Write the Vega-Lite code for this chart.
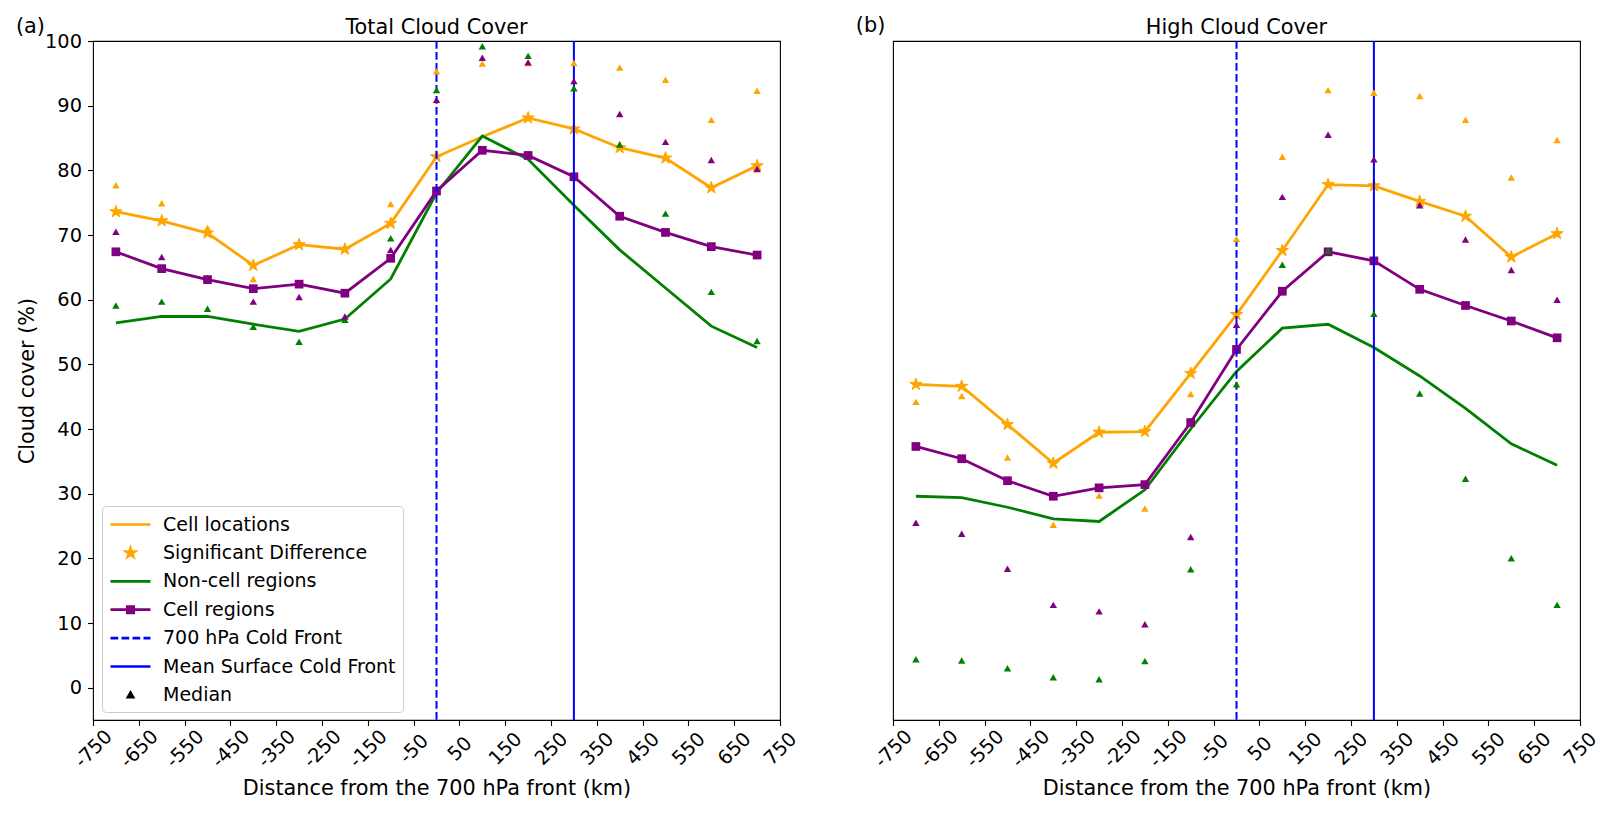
{
  "$schema": "https://vega.github.io/schema/vega-lite/v6.json",
  "padding": {"left": 15, "top": 15, "right": 5, "bottom": 5},
  "background": "white",
  "datasets": {
    "a": [
      {"x": -700, "cl": 73.6, "ncl": 56.4, "cr": 67.4, "clm": 77.7, "nclm": 59.1, "crm": 70.5, "sig": true},
      {"x": -600, "cl": 72.2, "ncl": 57.4, "cr": 64.8, "clm": 74.9, "nclm": 59.7, "crm": 66.6, "sig": true},
      {"x": -500, "cl": 70.3, "ncl": 57.4, "cr": 63.1, "clm": 71.1, "nclm": 58.6, "crm": 63.3, "sig": true},
      {"x": -400, "cl": 65.3, "ncl": 56.2, "cr": 61.7, "clm": 63.2, "nclm": 55.8, "crm": 59.7, "sig": true},
      {"x": -300, "cl": 68.5, "ncl": 55.1, "cr": 62.4, "clm": 68.8, "nclm": 53.5, "crm": 60.4, "sig": true},
      {"x": -200, "cl": 67.8, "ncl": 57.0, "cr": 61.0, "clm": 67.9, "nclm": 56.9, "crm": 57.4, "sig": true},
      {"x": -100, "cl": 71.8, "ncl": 63.2, "cr": 66.4, "clm": 74.8, "nclm": 69.5, "crm": 67.7, "sig": true},
      {"x": 0, "cl": 82.1, "ncl": 76.5, "cr": 76.8, "clm": 95.3, "nclm": 92.4, "crm": 90.9, "sig": true},
      {"x": 100, "cl": 85.2, "ncl": 85.3, "cr": 83.1, "clm": 96.5, "nclm": 99.2, "crm": 97.4, "sig": false},
      {"x": 200, "cl": 88.1, "ncl": 81.7, "cr": 82.3, "clm": 96.6, "nclm": 97.7, "crm": 96.7, "sig": true},
      {"x": 300, "cl": 86.4, "ncl": 74.6, "cr": 79.0, "clm": 96.6, "nclm": 92.7, "crm": 93.8, "sig": true},
      {"x": 400, "cl": 83.5, "ncl": 67.7, "cr": 72.9, "clm": 95.9, "nclm": 84.0, "crm": 88.7, "sig": true},
      {"x": 500, "cl": 81.9, "ncl": 61.8, "cr": 70.4, "clm": 94.0, "nclm": 73.3, "crm": 84.4, "sig": true},
      {"x": 600, "cl": 77.3, "ncl": 55.9, "cr": 68.2, "clm": 87.8, "nclm": 61.2, "crm": 81.6, "sig": true},
      {"x": 700, "cl": 80.7, "ncl": 52.6, "cr": 66.9, "clm": 92.3, "nclm": 53.6, "crm": 80.2, "sig": true}
    ],
    "b": [
      {"x": -700, "cl": 46.9, "ncl": 29.6, "cr": 37.3, "clm": 44.2, "nclm": 4.4, "crm": 25.5, "sig": true},
      {"x": -600, "cl": 46.6, "ncl": 29.4, "cr": 35.4, "clm": 45.1, "nclm": 4.2, "crm": 23.8, "sig": true},
      {"x": -500, "cl": 40.7, "ncl": 27.9, "cr": 32.0, "clm": 35.6, "nclm": 3.0, "crm": 18.4, "sig": true},
      {"x": -400, "cl": 34.7, "ncl": 26.1, "cr": 29.6, "clm": 25.2, "nclm": 1.6, "crm": 12.8, "sig": true},
      {"x": -300, "cl": 39.5, "ncl": 25.7, "cr": 30.9, "clm": 29.7, "nclm": 1.3, "crm": 11.8, "sig": true},
      {"x": -200, "cl": 39.6, "ncl": 30.6, "cr": 31.4, "clm": 27.7, "nclm": 4.1, "crm": 9.8, "sig": true},
      {"x": -100, "cl": 48.6, "ncl": 40.0, "cr": 41.0, "clm": 45.4, "nclm": 18.3, "crm": 23.3, "sig": true},
      {"x": 0, "cl": 57.7, "ncl": 48.9, "cr": 52.3, "clm": 69.4, "nclm": 46.9, "crm": 56.1, "sig": true},
      {"x": 100, "cl": 67.6, "ncl": 55.6, "cr": 61.3, "clm": 82.1, "nclm": 65.4, "crm": 75.9, "sig": true},
      {"x": 200, "cl": 77.8, "ncl": 56.2, "cr": 67.4, "clm": 92.4, "nclm": 67.6, "crm": 85.5, "sig": true},
      {"x": 300, "cl": 77.6, "ncl": 52.6, "cr": 66.0, "clm": 92.0, "nclm": 57.8, "crm": 81.7, "sig": true},
      {"x": 400, "cl": 75.2, "ncl": 48.2, "cr": 61.6, "clm": 91.5, "nclm": 45.5, "crm": 74.6, "sig": true},
      {"x": 500, "cl": 72.9, "ncl": 43.2, "cr": 59.1, "clm": 87.8, "nclm": 32.3, "crm": 69.3, "sig": true},
      {"x": 600, "cl": 66.6, "ncl": 37.7, "cr": 56.7, "clm": 78.9, "nclm": 20.0, "crm": 64.6, "sig": true},
      {"x": 700, "cl": 70.2, "ncl": 34.4, "cr": 54.1, "clm": 84.7, "nclm": 12.8, "crm": 60.0, "sig": true}
    ],
    "fronts700": [{"x": 0}],
    "frontsSurf": [{"x": 300}],
    "leg": [
      {"k": "Cell locations"}, {"k": "Significant Difference"}, {"k": "Non-cell regions"},
      {"k": "Cell regions"}, {"k": "700 hPa Cold Front"}, {"k": "Mean Surface Cold Front"}, {"k": "Median"}
    ]
  },
  "spacing": 54,
  "hconcat": [
    {
      "title": {"text": "(a)", "anchor": "start", "offset": -37.1, "baseline": "alphabetic"},
      "hconcat": [
        {
          "width": 687,
          "height": 679,
          "title": {"text": "Total Cloud Cover", "offset": -23.8, "baseline": "alphabetic"},
          "data": {"name": "a"},
          "encoding": {
            "x": {"field": "x", "type": "quantitative", "title": "Distance from the 700 hPa front (km)",
              "scale": {"domain": [-750, 750], "nice": false, "zero": false},
              "axis": {"values": [-750, -650, -550, -450, -350, -250, -150, -50, 50, 150, 250, 350, 450, 550, 650, 750],
                "labelAngle": -45, "labelAlign": "center", "labelBaseline": "middle", "labelPadding": 23,
                "titlePadding": 8, "labelFlush": false, "labelOverlap": false, "labelExpr": "'' + datum.value"}}
          },
          "layer": [
            {"mark": {"type": "line", "color": "#FFA500", "strokeWidth": 2.8},
             "encoding": {"y": {"field": "cl", "type": "quantitative", "title": "Cloud cover (%)",
               "scale": {"domain": [-5, 100], "nice": false, "zero": false},
               "axis": {"values": [0, 10, 20, 30, 40, 50, 60, 70, 80, 90, 100], "labelPadding": 6, "titlePadding": 7, "labelFlush": false, "labelOverlap": false}}}},
            {"transform": [{"filter": "datum.sig"}],
             "mark": {"type": "point", "shape": "M0,-1L0.2245,-0.309L0.9511,-0.309L0.3633,0.118L0.5878,0.809L0,0.382L-0.5878,0.809L-0.3633,0.118L-0.9511,-0.309L-0.2245,-0.309Z", "filled": true, "fill": "#FFA500", "stroke": "#FFA500", "strokeWidth": 1, "size": 165, "opacity": 1},
             "encoding": {"y": {"field": "cl", "type": "quantitative", "title": "Cloud cover (%)"}}},
            {"mark": {"type": "line", "color": "#008000", "strokeWidth": 2.8},
             "encoding": {"y": {"field": "ncl", "type": "quantitative", "title": "Cloud cover (%)"}}},
            {"mark": {"type": "line", "color": "#800080", "strokeWidth": 2.8},
             "encoding": {"y": {"field": "cr", "type": "quantitative", "title": "Cloud cover (%)"}}},
            {"mark": {"type": "point", "shape": "square", "filled": true, "color": "#800080", "size": 76, "opacity": 1},
             "encoding": {"y": {"field": "cr", "type": "quantitative", "title": "Cloud cover (%)"}}},
            {"data": {"name": "fronts700"}, "mark": {"type": "rule", "color": "#0000FF", "strokeWidth": 2, "strokeDash": [7.7, 3.3]}, "encoding": {}},
            {"data": {"name": "frontsSurf"}, "mark": {"type": "rule", "color": "#0000FF", "strokeWidth": 2}, "encoding": {}},
            {"mark": {"type": "point", "shape": "triangle-up", "filled": true, "color": "#FFA500", "size": 55, "opacity": 1},
             "encoding": {"y": {"field": "clm", "type": "quantitative", "title": "Cloud cover (%)"}}},
            {"mark": {"type": "point", "shape": "triangle-up", "filled": true, "color": "#008000", "size": 55, "opacity": 1},
             "encoding": {"y": {"field": "nclm", "type": "quantitative", "title": "Cloud cover (%)"}}},
            {"mark": {"type": "point", "shape": "triangle-up", "filled": true, "color": "#800080", "size": 55, "opacity": 1},
             "encoding": {"y": {"field": "crm", "type": "quantitative", "title": "Cloud cover (%)"}}},
            {"data": {"name": "leg"},
             "transform": [{"filter": "false"}],
             "mark": {"type": "point", "opacity": 1, "strokeWidth": 2.7},
             "encoding": {
               "x": {"value": 0},
               "fill": {"field": "k", "type": "nominal",
                 "scale": {"domain": ["Cell locations", "Significant Difference", "Non-cell regions", "Cell regions", "700 hPa Cold Front", "Mean Surface Cold Front", "Median"],
                           "range": ["#FFA500", "#FFA500", "#008000", "#800080", "#0000FF", "#0000FF", "#000000"]},
                 "legend": {"title": null}},
               "stroke": {"field": "k", "type": "nominal",
                 "scale": {"domain": ["Cell locations", "Significant Difference", "Non-cell regions", "Cell regions", "700 hPa Cold Front", "Mean Surface Cold Front", "Median"],
                           "range": ["#FFA500", "#FFA500", "#008000", "#800080", "#0000FF", "#0000FF", "#000000"]},
                 "legend": {"title": null}},
               "shape": {"field": "k", "type": "nominal",
                 "scale": {"domain": ["Cell locations", "Significant Difference", "Non-cell regions", "Cell regions", "700 hPa Cold Front", "Mean Surface Cold Front", "Median"],
                           "range": [
                             "M-1,0L3,0",
                             "M1,-0.45L1.101,-0.139L1.428,-0.139L1.1635,0.0531L1.2645,0.364L1,0.1719L0.7355,0.364L0.8365,0.0531L0.572,-0.139L0.899,-0.139Z",
                             "M-1,0L3,0",
                             "M-1,0L3,0M0.68,-0.32L1.32,-0.32L1.32,0.32L0.68,0.32Z",
                             "M-1,0L-0.23,0M0.1,0L0.87,0M1.2,0L1.97,0M2.3,0L3,0",
                             "M-1,0L3,0",
                             "M1,-0.22L1.25,0.22L0.75,0.22Z"
                           ]},
                 "legend": {"title": null}}
             }}
          ]
        }
      ]
    },
    {
      "title": {"text": "(b)", "anchor": "start", "offset": -37.1, "baseline": "alphabetic", "dx": -14},
      "hconcat": [
        {
          "width": 687,
          "height": 679,
          "title": {"text": "High Cloud Cover", "offset": -14.4, "baseline": "alphabetic"},
          "data": {"name": "b"},
          "encoding": {
            "x": {"field": "x", "type": "quantitative", "title": "Distance from the 700 hPa front (km)",
              "scale": {"domain": [-750, 750], "nice": false, "zero": false},
              "axis": {"values": [-750, -650, -550, -450, -350, -250, -150, -50, 50, 150, 250, 350, 450, 550, 650, 750],
                "labelAngle": -45, "labelAlign": "center", "labelBaseline": "middle", "labelPadding": 23,
                "titlePadding": 8, "labelFlush": false, "labelOverlap": false, "labelExpr": "'' + datum.value"}}
          },
          "layer": [
            {"mark": {"type": "line", "color": "#FFA500", "strokeWidth": 2.8},
             "encoding": {"y": {"field": "cl", "type": "quantitative", "axis": null,
               "scale": {"domain": [-5, 100], "nice": false, "zero": false}}}},
            {"transform": [{"filter": "datum.sig"}],
             "mark": {"type": "point", "shape": "M0,-1L0.2245,-0.309L0.9511,-0.309L0.3633,0.118L0.5878,0.809L0,0.382L-0.5878,0.809L-0.3633,0.118L-0.9511,-0.309L-0.2245,-0.309Z", "filled": true, "fill": "#FFA500", "stroke": "#FFA500", "strokeWidth": 1, "size": 165, "opacity": 1},
             "encoding": {"y": {"field": "cl", "type": "quantitative", "axis": null}}},
            {"mark": {"type": "line", "color": "#008000", "strokeWidth": 2.8},
             "encoding": {"y": {"field": "ncl", "type": "quantitative", "axis": null}}},
            {"mark": {"type": "line", "color": "#800080", "strokeWidth": 2.8},
             "encoding": {"y": {"field": "cr", "type": "quantitative", "axis": null}}},
            {"mark": {"type": "point", "shape": "square", "filled": true, "color": "#800080", "size": 76, "opacity": 1},
             "encoding": {"y": {"field": "cr", "type": "quantitative", "axis": null}}},
            {"data": {"name": "fronts700"}, "mark": {"type": "rule", "color": "#0000FF", "strokeWidth": 2, "strokeDash": [7.7, 3.3]}, "encoding": {}},
            {"data": {"name": "frontsSurf"}, "mark": {"type": "rule", "color": "#0000FF", "strokeWidth": 2}, "encoding": {}},
            {"mark": {"type": "point", "shape": "triangle-up", "filled": true, "color": "#FFA500", "size": 55, "opacity": 1},
             "encoding": {"y": {"field": "clm", "type": "quantitative", "axis": null}}},
            {"mark": {"type": "point", "shape": "triangle-up", "filled": true, "color": "#008000", "size": 55, "opacity": 1},
             "encoding": {"y": {"field": "nclm", "type": "quantitative", "axis": null}}},
            {"mark": {"type": "point", "shape": "triangle-up", "filled": true, "color": "#800080", "size": 55, "opacity": 1},
             "encoding": {"y": {"field": "crm", "type": "quantitative", "axis": null}}}
          ]
        }
      ]
    }
  ],
  "config": {
    "font": "DejaVu Sans",
    "view": {"stroke": "#000000", "strokeWidth": 1.1},
    "axis": {"domain": false, "grid": false, "tickColor": "#000000", "tickWidth": 1.1, "tickSize": 5.5,
             "labelColor": "#000000", "labelFontSize": 19.4, "labelFont": "DejaVu Sans",
             "titleColor": "#000000", "titleFontSize": 20.8, "titleFontWeight": "normal", "titleFont": "DejaVu Sans"},
    "title": {"fontSize": 20.8, "fontWeight": "normal", "color": "#000000", "font": "DejaVu Sans"},
    "legend": {"orient": "bottom-left", "offset": 8.5, "labelFontSize": 19, "labelColor": "#000000", "labelFont": "DejaVu Sans",
               "symbolSize": 400, "symbolStrokeWidth": 2.7, "symbolOpacity": 1, "labelOffset": 31, "rowPadding": 6.4,
               "padding": 7, "strokeColor": "#cccccc", "fillColor": "rgba(255,255,255,0.8)", "cornerRadius": 4, "labelLimit": 500}
  }
}
